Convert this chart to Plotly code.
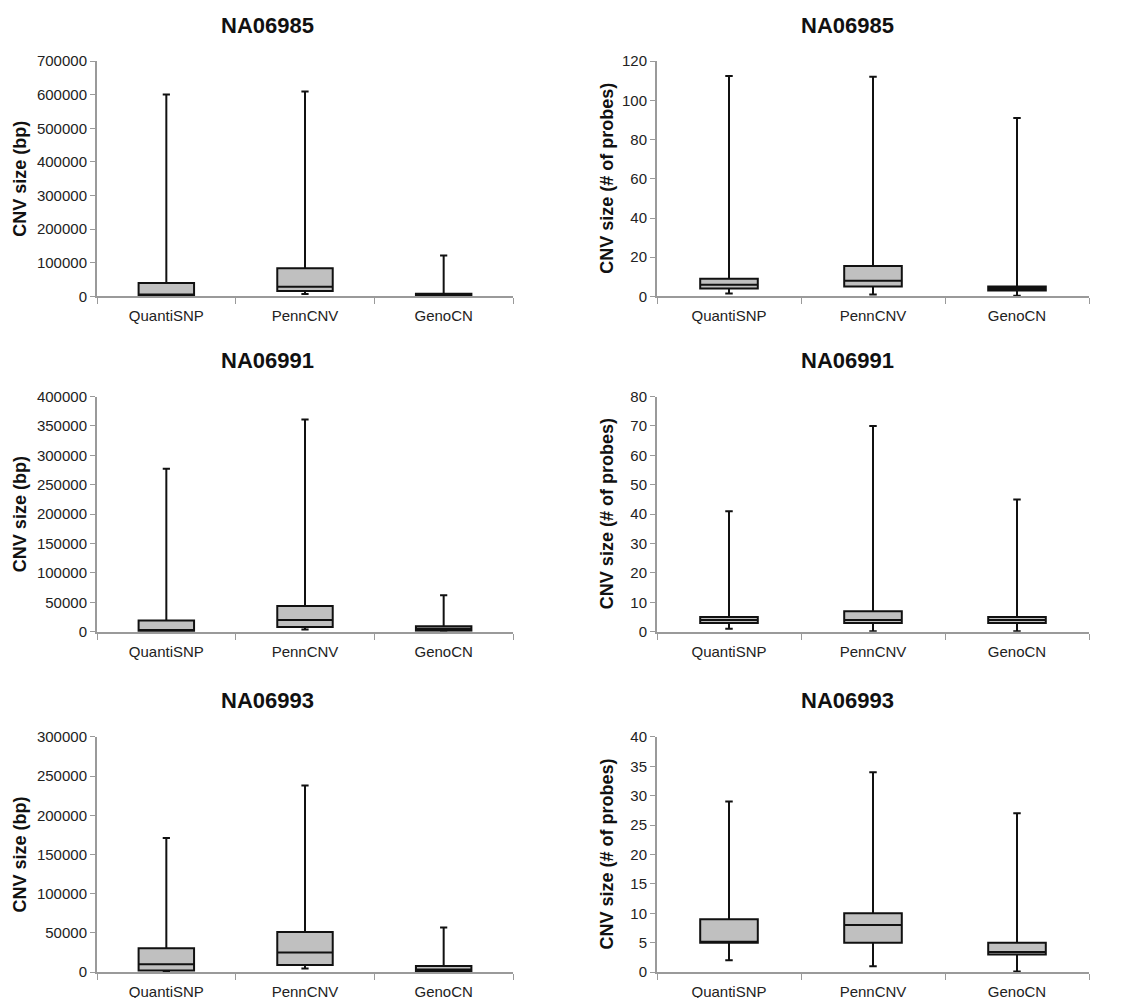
import plotly.graph_objects as go

CATEGORIES = ["QuantiSNP", "PennCNV", "GenoCN"]
SAMPLES = ["NA06985", "NA06991", "NA06993"]

# NA06985 - size in bp
bp_06985_min = [1000, 7000, 1000]
bp_06985_q1 = [2000, 16000, 2000]
bp_06985_med = [6000, 29000, 4000]
bp_06985_q3 = [40000, 84000, 8000]
bp_06985_max = [601000, 610000, 122000]

# NA06985 - size in # of probes
pr_06985_min = [1.5, 1, 0.3]
pr_06985_q1 = [4, 5, 3]
pr_06985_med = [6, 8, 4]
pr_06985_q3 = [9, 15.5, 5]
pr_06985_max = [112.5, 112, 91]

# NA06991 - size in bp
bp_06991_min = [500, 4000, 800]
bp_06991_q1 = [1000, 8000, 1700]
bp_06991_med = [3000, 20000, 5000]
bp_06991_q3 = [19000, 44000, 9500]
bp_06991_max = [277000, 361000, 62000]

# NA06991 - size in # of probes
pr_06991_min = [1, 0.2, 0.2]
pr_06991_q1 = [3, 3, 3]
pr_06991_med = [4, 4, 4]
pr_06991_q3 = [5, 7, 5]
pr_06991_max = [41, 70, 45]

# NA06993 - size in bp
bp_06993_min = [1000, 4700, 800]
bp_06993_q1 = [2000, 9000, 1300]
bp_06993_med = [10000, 25000, 3400]
bp_06993_q3 = [30500, 51000, 7600]
bp_06993_max = [171000, 238000, 57000]

# NA06993 - size in # of probes
pr_06993_min = [2, 1, 0.1]
pr_06993_q1 = [5, 5, 3]
pr_06993_med = [5, 8, 3.4]
pr_06993_q3 = [9, 10, 5]
pr_06993_max = [29, 34, 27]

BP_RANGES = [700000, 400000, 300000]
BP_DTICKS = [100000, 50000, 50000]
PR_RANGES = [120, 80, 40]
PR_DTICKS = [20, 10, 5]

panels = [
    [(bp_06985_min, bp_06985_q1, bp_06985_med, bp_06985_q3, bp_06985_max),
     (pr_06985_min, pr_06985_q1, pr_06985_med, pr_06985_q3, pr_06985_max)],
    [(bp_06991_min, bp_06991_q1, bp_06991_med, bp_06991_q3, bp_06991_max),
     (pr_06991_min, pr_06991_q1, pr_06991_med, pr_06991_q3, pr_06991_max)],
    [(bp_06993_min, bp_06993_q1, bp_06993_med, bp_06993_q3, bp_06993_max),
     (pr_06993_min, pr_06993_q1, pr_06993_med, pr_06993_q3, pr_06993_max)],
]

OFF = 8
W, H = 1132 - 2 * OFF, 998
FONT = "Liberation Sans, Arial, sans-serif"
AXIS_COLOR = "#9a9a9a"

# target screen-pixel layout of plot areas (left, right) and rows (top, bottom)
col_px = [(97, 513), (657, 1089)]
row_px = [(61, 296), (396, 631), (736, 971)]
title_x_px = [267, 847]
ytitle_x_px = [20, 607]

# observed mapping from figure pixels to screenshot pixels (vertical)
SY, BY = 0.982, 9.0


def fx(px):
    return (px - OFF) / W


def fy(py):
    fig_y = (py - BY) / SY - OFF
    return 1 - fig_y / H


fig = go.Figure()
layout = dict(
    width=W, height=H,
    margin=dict(l=0, r=0, t=0, b=0),
    paper_bgcolor="white", plot_bgcolor="white",
    showlegend=False,
    font=dict(family=FONT, size=15, color="#222"),
)
annotations = []

idx = 0
for r in range(3):
    for c in range(2):
        idx += 1
        xa = "x" if idx == 1 else f"x{idx}"
        ya = "y" if idx == 1 else f"y{idx}"
        mn, q1, md, q3, mx = panels[r][c]
        fig.add_trace(go.Box(
            x=CATEGORIES, q1=q1, median=md, q3=q3,
            lowerfence=mn, upperfence=mx,
            xaxis=xa, yaxis=ya,
            fillcolor="#c0c0c0",
            line=dict(color="#111", width=2),
            width=0.4, whiskerwidth=0.13,
            boxpoints=False, hoverinfo="skip",
        ))
        x0, x1 = col_px[c]
        y0, y1 = row_px[r]
        xkey = "xaxis" if idx == 1 else f"xaxis{idx}"
        ykey = "yaxis" if idx == 1 else f"yaxis{idx}"
        layout[xkey] = dict(
            domain=[fx(x0), fx(x1)], anchor=ya,
            type="category", categoryorder="array", categoryarray=CATEGORIES,
            range=[-0.5, 2.5],
            showline=True, linecolor=AXIS_COLOR, linewidth=2,
            ticks="outside", tickson="boundaries", ticklen=6,
            tickcolor=AXIS_COLOR, tickwidth=1,
            ticklabelstandoff=5,
            showgrid=False, zeroline=False,
            tickfont=dict(family=FONT, size=15, color="#222"),
        )
        ymax = BP_RANGES[r] if c == 0 else PR_RANGES[r]
        dt = BP_DTICKS[r] if c == 0 else PR_DTICKS[r]
        layout[ykey] = dict(
            domain=[fy(y1), fy(y0)], anchor=xa,
            range=[0, ymax], dtick=dt, tick0=0, tickformat="d",
            showline=True, linecolor=AXIS_COLOR, linewidth=2,
            ticks="outside", ticklen=5, tickcolor=AXIS_COLOR, tickwidth=1,
            showgrid=False, zeroline=False,
            tickfont=dict(family=FONT, size=15, color="#222"),
        )
        annotations.append(dict(
            text=f"<b>{SAMPLES[r]}</b>", xref="paper", yref="paper",
            x=fx(title_x_px[c]), y=fy(y0 - 36),
            xanchor="center", yanchor="middle", showarrow=False,
            font=dict(family=FONT, size=22, color="#111"),
        ))
        annotations.append(dict(
            text="<b>CNV size (bp)</b>" if c == 0 else "<b>CNV size (# of probes)</b>",
            xref="paper", yref="paper",
            x=fx(ytitle_x_px[c]), y=fy((y0 + y1) / 2),
            xanchor="center", yanchor="middle", showarrow=False, textangle=-90,
            font=dict(family=FONT, size=18, color="#111"),
        ))

layout["annotations"] = annotations
fig.update_layout(**layout)
fig.write_html("out.html")
